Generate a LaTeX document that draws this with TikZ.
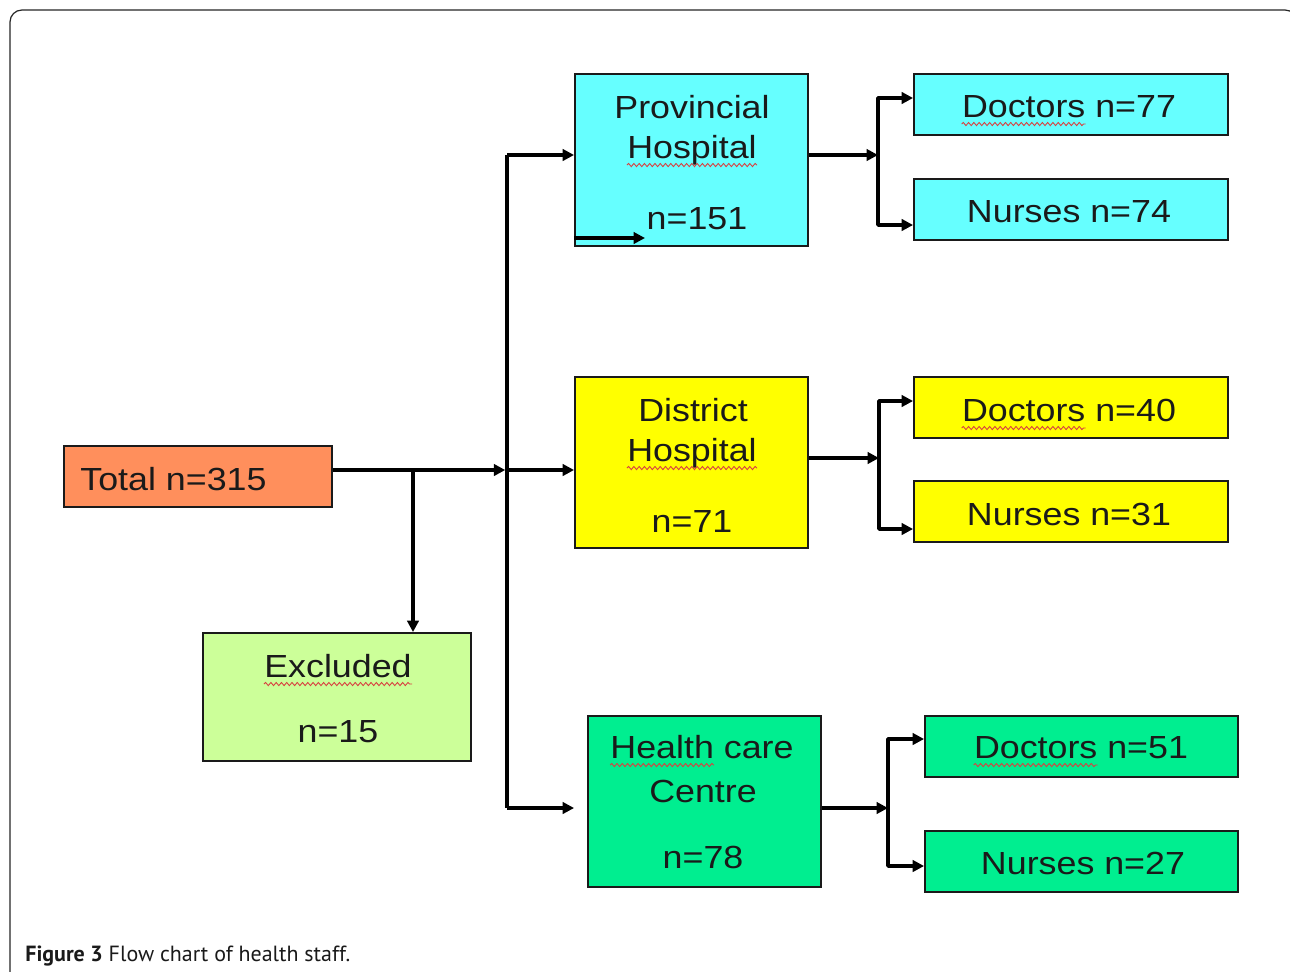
\documentclass[tikz,border=0pt]{standalone}
\usepackage{fontspec}
\setmainfont{Liberation Sans}
\newfontfamily\boxfont[FakeStretch=1.12]{Liberation Sans}
\newfontfamily\capfont{PT Sans}
\usetikzlibrary{arrows.meta,decorations.pathmorphing}
\definecolor{cyanbox}{HTML}{66FFFF}
\definecolor{orangebox}{HTML}{FF8F5C}
\definecolor{yellowbox}{HTML}{FFFF00}
\definecolor{limebox}{HTML}{CCFF99}
\definecolor{greenbox}{HTML}{00EE90}
\definecolor{spellred}{HTML}{D84040}
\definecolor{ink}{HTML}{1A1A1A}
\begin{document}
\begin{tikzpicture}[x=0.02cm,y=-0.02cm,
  box/.style={draw=ink, line width=1.1pt, inner sep=0pt},
  small/.style={minimum width=6.28cm, minimum height=1.22cm},
  big/.style={minimum width=4.66cm, minimum height=3.43cm},
  txt/.style={inner sep=0pt, anchor=base, font=\boxfont\fontsize{18.2}{22}\selectfont, text=ink},
  conn/.style={line width=2.1pt, draw=black, line join=round},
  arr/.style={conn, -{Triangle[length=6.5pt,width=6.5pt]}},
  arrboth/.style={conn, {Triangle[length=6.5pt,width=6.5pt]}-{Triangle[length=6.5pt,width=6.5pt]}},
  spell/.style={draw=spellred, line width=0.5pt, decorate, decoration={snake, amplitude=0.9pt, segment length=3pt}}
]
\clip (0,0) rectangle (1290,971);
\fill[white] (0,0) rectangle (1290,971);
% frame
\draw[black!85, line width=0.7pt, rounded corners=6.8pt] (10,1000) -- (10,10) -- (1297,10) -- (1297,1000);

% boxes
\node[box, fill=orangebox, minimum width=5.36cm, minimum height=1.22cm] (tot) at (198,476.5) {};
\node[box, fill=cyanbox, big] (pv) at (691.5,160) {};
\node[box, fill=cyanbox, small] (d77) at (1071,104.5) {};
\node[box, fill=cyanbox, small] (n74) at (1071,209.5) {};
\node[box, fill=yellowbox, big] (di) at (691.5,462.5) {};
\node[box, fill=yellowbox, small] (d40) at (1071,407.5) {};
\node[box, fill=yellowbox, small] (n31) at (1071,511.5) {};
\node[box, fill=limebox, minimum width=5.36cm, minimum height=2.56cm] (ex) at (337,697) {};
\node[box, fill=greenbox, big] (hc) at (704.5,801.5) {};
\node[box, fill=greenbox, small, minimum width=6.26cm] (d51) at (1081.5,746.5) {};
\node[box, fill=greenbox, small, minimum width=6.26cm] (n27) at (1081.5,861.5) {};

% texts
\node[txt, anchor=base west] (tott) at (80,490) {Total n=315};
\node[txt] (pv1) at (692,118) {Provincial};
\node[txt] (pv2) at (692,158) {Hospital};
\node[txt] (pv3) at (697,229) {n=151};
\node[txt] (di1) at (693,421) {District};
\node[txt] (di2) at (692,461) {Hospital};
\node[txt] (di3) at (692,532) {n=71};
\node[txt] (hc1) at (702,758) {Health care};
\node[txt] (hc2) at (703,802) {Centre};
\node[txt] (hc3) at (703,868) {n=78};
\node[txt] (ex1) at (338,677) {Excluded};
\node[txt] (ex2) at (338,742) {n=15};
\node[txt] (d77t) at (1069,117) {Doctors n=77};
\node[txt] (n74t) at (1069,222) {Nurses n=74};
\node[txt] (d40t) at (1069,421) {Doctors n=40};
\node[txt] (n31t) at (1069,525) {Nurses n=31};
\node[txt] (d51t) at (1081,758) {Doctors n=51};
\node[txt] (n27t) at (1083,874) {Nurses n=27};

% spell-check underlines
\draw[spell] ([yshift=-4pt]pv2.base west) -- ([yshift=-4pt]pv2.base east);
\draw[spell] ([yshift=-4pt]di2.base west) -- ([yshift=-4pt]di2.base east);
\draw[spell] ([yshift=-4pt]ex1.base west) -- ([yshift=-4pt]ex1.base east);
\draw[spell] ([yshift=-4pt]hc1.base west) -- ++(104,0);
\draw[spell] ([yshift=-4pt]d77t.base west) -- ++(124,0);
\draw[spell] ([yshift=-4pt]d40t.base west) -- ++(124,0);
\draw[spell] ([yshift=-4pt]d51t.base west) -- ++(124,0);

% junction coordinates
\coordinate (j1) at (413,470);
\coordinate (j2) at (507,470);
\coordinate (tp) at (507,155);
\coordinate (bt) at (507,808);
\coordinate (pr) at (878,155);
\coordinate (pa) at (878,98);
\coordinate (pb) at (878,225);
\coordinate (dr) at (879,458);
\coordinate (da) at (879,401);
\coordinate (db) at (879,529);
\coordinate (hr) at (888,808);
\coordinate (ha) at (888,739);
\coordinate (hb) at (888,866);
\coordinate (st) at (645,238);

% left connectors
\draw[arr, shorten >=1pt] (tot.east |- j1) -- (j2);
\draw[arr] (j1) -- (j1 |- ex.north);
\draw[arr] (j2) -- (j2 -| di.west);
\draw[conn] (tp) -- (bt);
\draw[arr] (tp) -- (tp -| pv.west);
\draw[arr, shorten >=7.4pt] (bt) -- (bt -| hc.west);
\draw[arr] (pv.west |- st) -- (st);

% right connectors
\draw[arr] (pv.east |- pr) -- (pr);
\draw[arrboth] (pa -| d77.west) -- (pa) -- (pb) -- (pb -| n74.west);
\draw[arr] (di.east |- dr) -- (dr);
\draw[arrboth] (da -| d40.west) -- (da) -- (db) -- (db -| n31.west);
\draw[arr] (hc.east |- hr) -- (hr);
\draw[arrboth] (ha -| d51.west) -- (ha) -- (hb) -- (hb -| n27.west);

% caption
\node[inner sep=0pt, anchor=base west, font=\capfont\fontsize{12.5}{15}\selectfont, text=ink] (cap) at (25,961) {\textbf{Figure 3} Flow chart of health staff.};
\end{tikzpicture}
\end{document}
